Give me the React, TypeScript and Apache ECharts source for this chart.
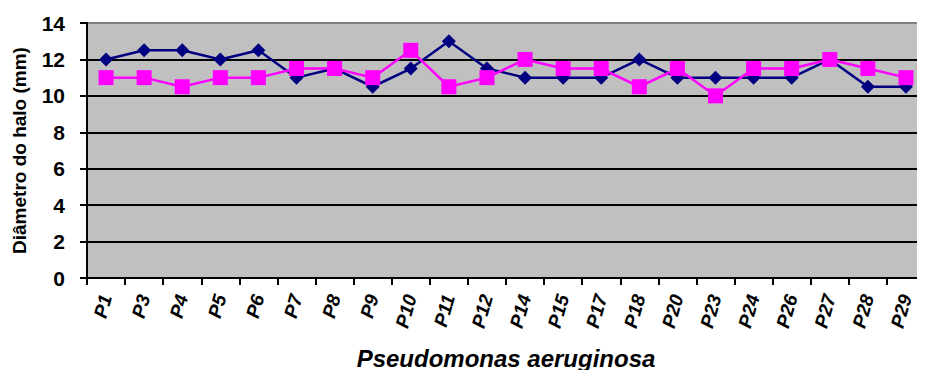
import React, { useEffect, useRef } from "react";
import * as echarts from "echarts";

const categories = ["P1", "P3", "P4", "P5", "P6", "P7", "P8", "P9", "P10", "P11", "P12", "P14", "P15", "P17", "P18", "P20", "P23", "P24", "P26", "P27", "P28", "P29"];
const seriesA = [12, 12.5, 12.5, 12, 12.5, 11, 11.5, 10.5, 11.5, 13, 11.5, 11, 11, 11, 12, 11, 11, 11, 11, 12, 10.5, 10.5];
const seriesB = [11, 11, 10.5, 11, 11, 11.5, 11.5, 11, 12.5, 10.5, 11, 12, 11.5, 11.5, 10.5, 11.5, 10, 11.5, 11.5, 12, 11.5, 11];
const yTicks = [0, 2, 4, 6, 8, 10, 12, 14];

const FONT = "'Liberation Sans', Arial, sans-serif";

export default function App() {
  const ref = useRef<HTMLDivElement>(null);
  useEffect(() => {
    if (!ref.current) return;
    const chart = echarts.init(ref.current, null, { renderer: "svg" });
    chart.setOption({
      animation: false,
      backgroundColor: "#ffffff",
      grid: {
        left: 87,
        top: 23,
        width: 849,
        height: 255,
        show: true,
        backgroundColor: "#C0C0C0",
        borderColor: "#808080",
        borderWidth: 2,
      },
      xAxis: {
        type: "category",
        data: categories,
        boundaryGap: true,
        name: "Pseudomonas aeruginosa",
        nameLocation: "middle",
        nameGap: 68,
        nameTextStyle: { fontFamily: FONT, fontWeight: "bold", fontStyle: "italic", fontSize: 24, color: "#000" },
        axisLine: { lineStyle: { color: "#000", width: 2 } },
        axisTick: { show: true, length: 7, lineStyle: { color: "#000", width: 2 }, alignWithLabel: false },
        axisLabel: {
          rotate: 74,
          interval: 0,
          margin: 17,
          fontFamily: FONT,
          fontWeight: "bold",
          fontStyle: "italic",
          fontSize: 19,
          color: "#000",
        },
        splitLine: { show: false },
      },
      yAxis: {
        type: "value",
        min: yTicks[0],
        max: yTicks[yTicks.length - 1],
        interval: 2,
        name: "Diâmetro do halo (mm)",
        nameLocation: "middle",
        nameGap: 58,
        nameTextStyle: { fontFamily: FONT, fontWeight: "bold", fontSize: 19, color: "#000" },
        axisLine: { show: true, lineStyle: { color: "#000", width: 2 } },
        axisTick: { show: true, length: 7, lineStyle: { color: "#000", width: 2 } },
        axisLabel: { fontFamily: FONT, fontWeight: "bold", fontSize: 21, color: "#000", margin: 22 },
        splitLine: {
          show: true,
          lineStyle: {
            color: ["#000", "#000", "#000", "#000", "#000", "#000", "#000", "#808080"],
            width: 2,
          },
        },
      },
      series: [
        {
          type: "line",
          data: seriesA,
          symbol: "diamond",
          symbolSize: 14,
          color: "#000080",
          lineStyle: { color: "#000080", width: 2.5 },
          itemStyle: { color: "#000080" },
        },
        {
          type: "line",
          data: seriesB,
          symbol: "rect",
          symbolSize: 15,
          color: "#FF00FF",
          lineStyle: { color: "#FF00FF", width: 2.5 },
          itemStyle: { color: "#FF00FF" },
        },
      ],
    });
    return () => chart.dispose();
  }, []);
  return <div ref={ref} style={{ width: 925, height: 378, margin: -8 }} />;
}
